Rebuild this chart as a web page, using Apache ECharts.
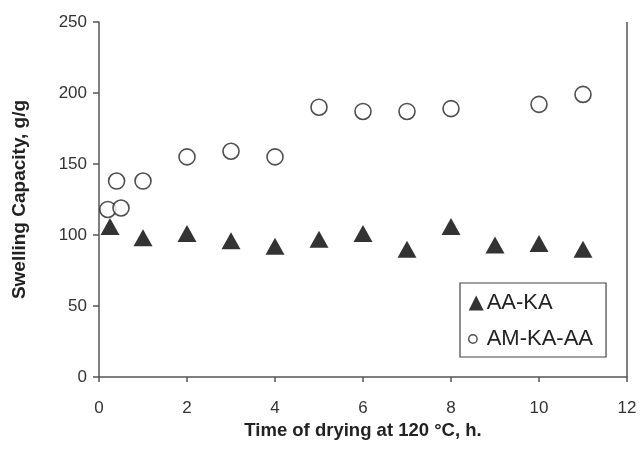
<!DOCTYPE html>
<html>
<head>
<meta charset="utf-8">
<script src="https://cdn.jsdelivr.net/npm/echarts@6/dist/echarts.min.js"></script>
<style>
  html, body { margin: 0; padding: 0; background: #fff; }
  #chart { width: 640px; height: 465px; }
</style>
</head>
<body>
<div id="chart"></div>
<script>
// time of drying (h) and swelling capacity (g/g)
var aaKaTime = [0.25, 1, 2, 3, 4, 5, 6, 7, 8, 9, 10, 11];
var aaKaSwell = [106, 98, 101, 96, 92, 97, 101, 90, 106, 93, 94, 90];

var amKaAaTime = [0.2, 0.5, 0.4, 1, 2, 3, 4, 5, 6, 7, 8, 10, 11];
var amKaAaSwell = [118, 119, 138, 138, 155, 159, 155, 190, 187, 187, 189, 192, 199];

var xTicks = [0, 2, 4, 6, 8, 10, 12];
var yTicks = [0, 50, 100, 150, 200, 250];

function pairs(xs, ys) {
  var out = [];
  for (var i = 0; i < xs.length; i++) {
    out.push([xs[i], ys[i]]);
  }
  return out;
}

var chart = echarts.init(document.getElementById('chart'), null, { renderer: 'canvas' });

var axisColor = '#555';
var font = 'Liberation Sans, Arial, sans-serif';
// small open circle inside a 15x15 box, used as legend icon
var smallCircle = 'path://M0 0M15 15M8.4 7.5A4.2 4.2 0 1 1 0 7.5A4.2 4.2 0 1 1 8.4 7.5Z';

var option = {
  backgroundColor: '#fff',
  animation: false,
  textStyle: { fontFamily: font },
  grid: {
    left: 99,
    right: 13,
    top: 22,
    bottom: 88
  },
  legend: {
    orient: 'vertical',
    left: 460,
    top: 283,
    padding: [9, 13, 7, 8],
    itemGap: 14,
    itemWidth: 15,
    itemHeight: 15,
    borderColor: '#444',
    borderWidth: 1.2,
    borderRadius: 0,
    backgroundColor: '#fff',
    textStyle: { fontFamily: font, fontSize: 22, color: '#222', padding: [0, 0, 0, -2] },
    data: [
      { name: 'AA-KA', icon: 'triangle' },
      { name: 'AM-KA-AA', icon: smallCircle, itemStyle: { borderWidth: 1.4 } }
    ]
  },
  xAxis: {
    type: 'value',
    min: xTicks[0],
    max: xTicks[xTicks.length - 1],
    interval: 2,
    name: 'Time of drying at 120 \u00B0C, h.',
    nameLocation: 'middle',
    nameGap: 44,
    nameTextStyle: { fontFamily: font, fontSize: 18.5, fontWeight: 'bold', color: '#222' },
    axisLine: { show: true, lineStyle: { color: axisColor, width: 1.5 } },
    axisTick: { show: true, inside: false, length: 5, lineStyle: { color: axisColor, width: 1.5 } },
    axisLabel: { fontFamily: font, fontSize: 17, color: '#333', margin: 23 },
    splitLine: { show: false }
  },
  yAxis: {
    type: 'value',
    min: yTicks[0],
    max: yTicks[yTicks.length - 1],
    interval: 50,
    name: 'Swelling Capacity, g/g',
    nameLocation: 'middle',
    nameGap: 70,
    nameTextStyle: { fontFamily: font, fontSize: 19, fontWeight: 'bold', color: '#222' },
    axisLine: { show: true, lineStyle: { color: axisColor, width: 1.5 } },
    axisTick: { show: true, inside: false, length: 6, lineStyle: { color: axisColor, width: 1.5 } },
    axisLabel: { fontFamily: font, fontSize: 17, color: '#333', margin: 12 },
    splitLine: { show: false }
  },
  series: [{
    name: 'AA-KA',
    type: 'scatter',
    symbol: 'triangle',
    symbolSize: [19, 17],
    itemStyle: { color: '#000' },
    data: pairs(aaKaTime, aaKaSwell),
    z: 3
  }, {
    name: 'AM-KA-AA',
    type: 'scatter',
    symbol: 'circle',
    symbolSize: 16,
    itemStyle: { color: '#fff', borderColor: '#222', borderWidth: 1.6 },
    data: pairs(amKaAaTime, amKaAaSwell),
    z: 4
  }, {
    // right-hand frame of the plot area
    type: 'line',
    silent: true,
    symbol: 'none',
    lineStyle: { color: axisColor, width: 1.5 },
    data: [[xTicks[xTicks.length - 1], yTicks[0]], [xTicks[xTicks.length - 1], yTicks[yTicks.length - 1]]],
    z: 1
  }]
};

chart.setOption(option);
</script>
</body>
</html>
